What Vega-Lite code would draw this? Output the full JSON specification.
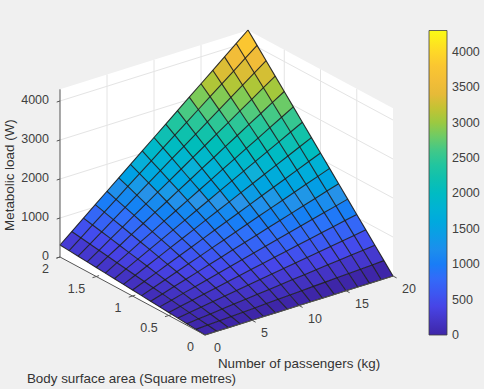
{"$schema":"https://vega.github.io/schema/vega-lite/v6.json","width":484,"height":389,"padding":0,"autosize":{"type":"none"},"background":"#f0f0f0","config":{"view":{"stroke":null},"text":{"font":"Liberation Sans","fontSize":12.5,"color":"#404040"}},
"datasets":{
"walls":[{"w":"floor","o":0,"p":0,"a":0,"z":0},{"w":"floor","o":1,"p":20,"a":0,"z":0},{"w":"floor","o":2,"p":20,"a":2,"z":0},{"w":"floor","o":3,"p":0,"a":2,"z":0},{"w":"back","o":0,"p":0,"a":2,"z":0},{"w":"back","o":1,"p":20,"a":2,"z":0},{"w":"back","o":2,"p":20,"a":2,"z":4300},{"w":"back","o":3,"p":0,"a":2,"z":4300},{"w":"side","o":0,"p":20,"a":2,"z":0},{"w":"side","o":1,"p":20,"a":0,"z":0},{"w":"side","o":2,"p":20,"a":0,"z":4300},{"w":"side","o":3,"p":20,"a":2,"z":4300}],
"wallgrid":[{"g":"z1","o":0,"p":0,"a":2,"z":1000},{"g":"z1","o":1,"p":20,"a":2,"z":1000},{"g":"z1","o":2,"p":20,"a":0,"z":1000},{"g":"z2","o":0,"p":0,"a":2,"z":2000},{"g":"z2","o":1,"p":20,"a":2,"z":2000},{"g":"z2","o":2,"p":20,"a":0,"z":2000},{"g":"z3","o":0,"p":0,"a":2,"z":3000},{"g":"z3","o":1,"p":20,"a":2,"z":3000},{"g":"z3","o":2,"p":20,"a":0,"z":3000},{"g":"z4","o":0,"p":0,"a":2,"z":4000},{"g":"z4","o":1,"p":20,"a":2,"z":4000},{"g":"z4","o":2,"p":20,"a":0,"z":4000},{"g":"p5","o":0,"p":5,"a":2,"z":0},{"g":"p5","o":1,"p":5,"a":2,"z":4300},{"g":"p10","o":0,"p":10,"a":2,"z":0},{"g":"p10","o":1,"p":10,"a":2,"z":4300},{"g":"p15","o":0,"p":15,"a":2,"z":0},{"g":"p15","o":1,"p":15,"a":2,"z":4300},{"g":"a15","o":0,"p":20,"a":1.5,"z":0},{"g":"a15","o":1,"p":20,"a":1.5,"z":4300},{"g":"a10","o":0,"p":20,"a":1,"z":0},{"g":"a10","o":1,"p":20,"a":1,"z":4300},{"g":"a05","o":0,"p":20,"a":0.5,"z":0},{"g":"a05","o":1,"p":20,"a":0.5,"z":4300}],
"axes":[{"g":"zaxis","o":0,"p":0,"a":2,"z":0},{"g":"zaxis","o":1,"p":0,"a":2,"z":4300},{"g":"aaxis","o":0,"p":0,"a":2,"z":0},{"g":"aaxis","o":1,"p":0,"a":0,"z":0},{"g":"paxis","o":0,"p":0,"a":0,"z":0},{"g":"paxis","o":1,"p":20,"a":0,"z":0},
{"g":"tz0","o":0,"p":-0.35,"a":2,"z":0},{"g":"tz0","o":1,"p":0,"a":2,"z":0},{"g":"tz1","o":0,"p":-0.35,"a":2,"z":1000},{"g":"tz1","o":1,"p":0,"a":2,"z":1000},{"g":"tz2","o":0,"p":-0.35,"a":2,"z":2000},{"g":"tz2","o":1,"p":0,"a":2,"z":2000},{"g":"tz3","o":0,"p":-0.35,"a":2,"z":3000},{"g":"tz3","o":1,"p":0,"a":2,"z":3000},{"g":"tz4","o":0,"p":-0.35,"a":2,"z":4000},{"g":"tz4","o":1,"p":0,"a":2,"z":4000},
{"g":"ta2","o":0,"p":0,"a":2,"z":0},{"g":"ta2","o":1,"p":-0.4,"a":2,"z":0},{"g":"ta15","o":0,"p":-0.4,"a":1.5,"z":0},{"g":"ta15","o":1,"p":0.3,"a":1.5,"z":0},{"g":"ta1","o":0,"p":-0.4,"a":1,"z":0},{"g":"ta1","o":1,"p":0.3,"a":1,"z":0},{"g":"ta05","o":0,"p":-0.4,"a":0.5,"z":0},{"g":"ta05","o":1,"p":0.3,"a":0.5,"z":0},
{"g":"tp5","o":0,"p":5,"a":0,"z":0},{"g":"tp5","o":1,"p":5,"a":-0.05,"z":0},{"g":"tp10","o":0,"p":10,"a":0,"z":0},{"g":"tp10","o":1,"p":10,"a":-0.05,"z":0},{"g":"tp15","o":0,"p":15,"a":0,"z":0},{"g":"tp15","o":1,"p":15,"a":-0.05,"z":0},{"g":"tp20","o":0,"p":20,"a":0,"z":0},{"g":"tp20","o":1,"p":20,"a":-0.05,"z":0}],
"labels":[{"axis":"z","label":"0","p":0,"a":2,"z":0},{"axis":"z","label":"1000","p":0,"a":2,"z":1000},{"axis":"z","label":"2000","p":0,"a":2,"z":2000},{"axis":"z","label":"3000","p":0,"a":2,"z":3000},{"axis":"z","label":"4000","p":0,"a":2,"z":4000},{"axis":"a","label":"2","p":0,"a":2,"z":0},{"axis":"a","label":"1.5","p":0,"a":1.5,"z":0},{"axis":"a","label":"1","p":0,"a":1,"z":0},{"axis":"a","label":"0.5","p":0,"a":0.5,"z":0},{"axis":"a","label":"0","p":0,"a":0,"z":0},{"axis":"p","label":"0","p":0,"a":0,"z":0},{"axis":"p","label":"5","p":5,"a":0,"z":0},{"axis":"p","label":"10","p":10,"a":0,"z":0},{"axis":"p","label":"15","p":15,"a":0,"z":0},{"axis":"p","label":"20","p":20,"a":0,"z":0},{"axis":"tz","label":"Metabolic load (W)","p":0,"a":2,"z":2100},{"axis":"ta","label":"Body surface area (Square metres)","p":0,"a":1,"z":0},{"axis":"tp","label":"Number of passengers (kg)","p":10,"a":0,"z":0}],
"cbticks":[{"v":0},{"v":500},{"v":1000},{"v":1500},{"v":2000},{"v":2500},{"v":3000},{"v":3500},{"v":4000}],
"grid":[
{"p":0,"a":0,"z":0},{"p":0,"a":0.125,"z":19},{"p":0,"a":0.25,"z":39},{"p":0,"a":0.375,"z":58},{"p":0,"a":0.5,"z":77},{"p":0,"a":0.625,"z":96},{"p":0,"a":0.75,"z":116},{"p":0,"a":0.875,"z":135},{"p":0,"a":1,"z":154},{"p":0,"a":1.125,"z":173},{"p":0,"a":1.25,"z":193},{"p":0,"a":1.375,"z":212},{"p":0,"a":1.5,"z":231},{"p":0,"a":1.625,"z":250},{"p":0,"a":1.75,"z":270},{"p":0,"a":1.875,"z":289},{"p":0,"a":2,"z":308},
{"p":1.25,"a":0,"z":0},{"p":1.25,"a":0.125,"z":35},{"p":1.25,"a":0.25,"z":70},{"p":1.25,"a":0.375,"z":105},{"p":1.25,"a":0.5,"z":140},{"p":1.25,"a":0.625,"z":174},{"p":1.25,"a":0.75,"z":209},{"p":1.25,"a":0.875,"z":244},{"p":1.25,"a":1,"z":279},{"p":1.25,"a":1.125,"z":314},{"p":1.25,"a":1.25,"z":349},{"p":1.25,"a":1.375,"z":384},{"p":1.25,"a":1.5,"z":419},{"p":1.25,"a":1.625,"z":453},{"p":1.25,"a":1.75,"z":488},{"p":1.25,"a":1.875,"z":523},{"p":1.25,"a":2,"z":558},
{"p":2.5,"a":0,"z":0},{"p":2.5,"a":0.125,"z":51},{"p":2.5,"a":0.25,"z":101},{"p":2.5,"a":0.375,"z":152},{"p":2.5,"a":0.5,"z":202},{"p":2.5,"a":0.625,"z":253},{"p":2.5,"a":0.75,"z":303},{"p":2.5,"a":0.875,"z":354},{"p":2.5,"a":1,"z":404},{"p":2.5,"a":1.125,"z":455},{"p":2.5,"a":1.25,"z":505},{"p":2.5,"a":1.375,"z":556},{"p":2.5,"a":1.5,"z":606},{"p":2.5,"a":1.625,"z":657},{"p":2.5,"a":1.75,"z":707},{"p":2.5,"a":1.875,"z":758},{"p":2.5,"a":2,"z":808},
{"p":3.75,"a":0,"z":0},{"p":3.75,"a":0.125,"z":66},{"p":3.75,"a":0.25,"z":132},{"p":3.75,"a":0.375,"z":198},{"p":3.75,"a":0.5,"z":265},{"p":3.75,"a":0.625,"z":331},{"p":3.75,"a":0.75,"z":397},{"p":3.75,"a":0.875,"z":463},{"p":3.75,"a":1,"z":529},{"p":3.75,"a":1.125,"z":595},{"p":3.75,"a":1.25,"z":661},{"p":3.75,"a":1.375,"z":727},{"p":3.75,"a":1.5,"z":794},{"p":3.75,"a":1.625,"z":860},{"p":3.75,"a":1.75,"z":926},{"p":3.75,"a":1.875,"z":992},{"p":3.75,"a":2,"z":1058},
{"p":5,"a":0,"z":0},{"p":5,"a":0.125,"z":82},{"p":5,"a":0.25,"z":164},{"p":5,"a":0.375,"z":245},{"p":5,"a":0.5,"z":327},{"p":5,"a":0.625,"z":409},{"p":5,"a":0.75,"z":491},{"p":5,"a":0.875,"z":572},{"p":5,"a":1,"z":654},{"p":5,"a":1.125,"z":736},{"p":5,"a":1.25,"z":818},{"p":5,"a":1.375,"z":899},{"p":5,"a":1.5,"z":981},{"p":5,"a":1.625,"z":1063},{"p":5,"a":1.75,"z":1145},{"p":5,"a":1.875,"z":1226},{"p":5,"a":2,"z":1308},
{"p":6.25,"a":0,"z":0},{"p":6.25,"a":0.125,"z":97},{"p":6.25,"a":0.25,"z":195},{"p":6.25,"a":0.375,"z":292},{"p":6.25,"a":0.5,"z":390},{"p":6.25,"a":0.625,"z":487},{"p":6.25,"a":0.75,"z":584},{"p":6.25,"a":0.875,"z":682},{"p":6.25,"a":1,"z":779},{"p":6.25,"a":1.125,"z":876},{"p":6.25,"a":1.25,"z":974},{"p":6.25,"a":1.375,"z":1071},{"p":6.25,"a":1.5,"z":1169},{"p":6.25,"a":1.625,"z":1266},{"p":6.25,"a":1.75,"z":1363},{"p":6.25,"a":1.875,"z":1461},{"p":6.25,"a":2,"z":1558},
{"p":7.5,"a":0,"z":0},{"p":7.5,"a":0.125,"z":113},{"p":7.5,"a":0.25,"z":226},{"p":7.5,"a":0.375,"z":339},{"p":7.5,"a":0.5,"z":452},{"p":7.5,"a":0.625,"z":565},{"p":7.5,"a":0.75,"z":678},{"p":7.5,"a":0.875,"z":791},{"p":7.5,"a":1,"z":904},{"p":7.5,"a":1.125,"z":1017},{"p":7.5,"a":1.25,"z":1130},{"p":7.5,"a":1.375,"z":1243},{"p":7.5,"a":1.5,"z":1356},{"p":7.5,"a":1.625,"z":1469},{"p":7.5,"a":1.75,"z":1582},{"p":7.5,"a":1.875,"z":1695},{"p":7.5,"a":2,"z":1808},
{"p":8.75,"a":0,"z":0},{"p":8.75,"a":0.125,"z":129},{"p":8.75,"a":0.25,"z":257},{"p":8.75,"a":0.375,"z":386},{"p":8.75,"a":0.5,"z":515},{"p":8.75,"a":0.625,"z":643},{"p":8.75,"a":0.75,"z":772},{"p":8.75,"a":0.875,"z":900},{"p":8.75,"a":1,"z":1029},{"p":8.75,"a":1.125,"z":1158},{"p":8.75,"a":1.25,"z":1286},{"p":8.75,"a":1.375,"z":1415},{"p":8.75,"a":1.5,"z":1544},{"p":8.75,"a":1.625,"z":1672},{"p":8.75,"a":1.75,"z":1801},{"p":8.75,"a":1.875,"z":1929},{"p":8.75,"a":2,"z":2058},
{"p":10,"a":0,"z":0},{"p":10,"a":0.125,"z":144},{"p":10,"a":0.25,"z":289},{"p":10,"a":0.375,"z":433},{"p":10,"a":0.5,"z":577},{"p":10,"a":0.625,"z":721},{"p":10,"a":0.75,"z":866},{"p":10,"a":0.875,"z":1010},{"p":10,"a":1,"z":1154},{"p":10,"a":1.125,"z":1298},{"p":10,"a":1.25,"z":1443},{"p":10,"a":1.375,"z":1587},{"p":10,"a":1.5,"z":1731},{"p":10,"a":1.625,"z":1875},{"p":10,"a":1.75,"z":2020},{"p":10,"a":1.875,"z":2164},{"p":10,"a":2,"z":2308},
{"p":11.25,"a":0,"z":0},{"p":11.25,"a":0.125,"z":160},{"p":11.25,"a":0.25,"z":320},{"p":11.25,"a":0.375,"z":480},{"p":11.25,"a":0.5,"z":640},{"p":11.25,"a":0.625,"z":799},{"p":11.25,"a":0.75,"z":959},{"p":11.25,"a":0.875,"z":1119},{"p":11.25,"a":1,"z":1279},{"p":11.25,"a":1.125,"z":1439},{"p":11.25,"a":1.25,"z":1599},{"p":11.25,"a":1.375,"z":1759},{"p":11.25,"a":1.5,"z":1919},{"p":11.25,"a":1.625,"z":2078},{"p":11.25,"a":1.75,"z":2238},{"p":11.25,"a":1.875,"z":2398},{"p":11.25,"a":2,"z":2558},
{"p":12.5,"a":0,"z":0},{"p":12.5,"a":0.125,"z":176},{"p":12.5,"a":0.25,"z":351},{"p":12.5,"a":0.375,"z":527},{"p":12.5,"a":0.5,"z":702},{"p":12.5,"a":0.625,"z":878},{"p":12.5,"a":0.75,"z":1053},{"p":12.5,"a":0.875,"z":1229},{"p":12.5,"a":1,"z":1404},{"p":12.5,"a":1.125,"z":1580},{"p":12.5,"a":1.25,"z":1755},{"p":12.5,"a":1.375,"z":1931},{"p":12.5,"a":1.5,"z":2106},{"p":12.5,"a":1.625,"z":2282},{"p":12.5,"a":1.75,"z":2457},{"p":12.5,"a":1.875,"z":2633},{"p":12.5,"a":2,"z":2808},
{"p":13.75,"a":0,"z":0},{"p":13.75,"a":0.125,"z":191},{"p":13.75,"a":0.25,"z":382},{"p":13.75,"a":0.375,"z":573},{"p":13.75,"a":0.5,"z":765},{"p":13.75,"a":0.625,"z":956},{"p":13.75,"a":0.75,"z":1147},{"p":13.75,"a":0.875,"z":1338},{"p":13.75,"a":1,"z":1529},{"p":13.75,"a":1.125,"z":1720},{"p":13.75,"a":1.25,"z":1911},{"p":13.75,"a":1.375,"z":2102},{"p":13.75,"a":1.5,"z":2294},{"p":13.75,"a":1.625,"z":2485},{"p":13.75,"a":1.75,"z":2676},{"p":13.75,"a":1.875,"z":2867},{"p":13.75,"a":2,"z":3058},
{"p":15,"a":0,"z":0},{"p":15,"a":0.125,"z":207},{"p":15,"a":0.25,"z":414},{"p":15,"a":0.375,"z":620},{"p":15,"a":0.5,"z":827},{"p":15,"a":0.625,"z":1034},{"p":15,"a":0.75,"z":1241},{"p":15,"a":0.875,"z":1447},{"p":15,"a":1,"z":1654},{"p":15,"a":1.125,"z":1861},{"p":15,"a":1.25,"z":2068},{"p":15,"a":1.375,"z":2274},{"p":15,"a":1.5,"z":2481},{"p":15,"a":1.625,"z":2688},{"p":15,"a":1.75,"z":2895},{"p":15,"a":1.875,"z":3101},{"p":15,"a":2,"z":3308},
{"p":16.25,"a":0,"z":0},{"p":16.25,"a":0.125,"z":222},{"p":16.25,"a":0.25,"z":445},{"p":16.25,"a":0.375,"z":667},{"p":16.25,"a":0.5,"z":890},{"p":16.25,"a":0.625,"z":1112},{"p":16.25,"a":0.75,"z":1334},{"p":16.25,"a":0.875,"z":1557},{"p":16.25,"a":1,"z":1779},{"p":16.25,"a":1.125,"z":2001},{"p":16.25,"a":1.25,"z":2224},{"p":16.25,"a":1.375,"z":2446},{"p":16.25,"a":1.5,"z":2669},{"p":16.25,"a":1.625,"z":2891},{"p":16.25,"a":1.75,"z":3113},{"p":16.25,"a":1.875,"z":3336},{"p":16.25,"a":2,"z":3558},
{"p":17.5,"a":0,"z":0},{"p":17.5,"a":0.125,"z":238},{"p":17.5,"a":0.25,"z":476},{"p":17.5,"a":0.375,"z":714},{"p":17.5,"a":0.5,"z":952},{"p":17.5,"a":0.625,"z":1190},{"p":17.5,"a":0.75,"z":1428},{"p":17.5,"a":0.875,"z":1666},{"p":17.5,"a":1,"z":1904},{"p":17.5,"a":1.125,"z":2142},{"p":17.5,"a":1.25,"z":2380},{"p":17.5,"a":1.375,"z":2618},{"p":17.5,"a":1.5,"z":2856},{"p":17.5,"a":1.625,"z":3094},{"p":17.5,"a":1.75,"z":3332},{"p":17.5,"a":1.875,"z":3570},{"p":17.5,"a":2,"z":3808},
{"p":18.75,"a":0,"z":0},{"p":18.75,"a":0.125,"z":254},{"p":18.75,"a":0.25,"z":507},{"p":18.75,"a":0.375,"z":761},{"p":18.75,"a":0.5,"z":1015},{"p":18.75,"a":0.625,"z":1268},{"p":18.75,"a":0.75,"z":1522},{"p":18.75,"a":0.875,"z":1775},{"p":18.75,"a":1,"z":2029},{"p":18.75,"a":1.125,"z":2283},{"p":18.75,"a":1.25,"z":2536},{"p":18.75,"a":1.375,"z":2790},{"p":18.75,"a":1.5,"z":3044},{"p":18.75,"a":1.625,"z":3297},{"p":18.75,"a":1.75,"z":3551},{"p":18.75,"a":1.875,"z":3804},{"p":18.75,"a":2,"z":4058},
{"p":20,"a":0,"z":0},{"p":20,"a":0.125,"z":269},{"p":20,"a":0.25,"z":539},{"p":20,"a":0.375,"z":808},{"p":20,"a":0.5,"z":1077},{"p":20,"a":0.625,"z":1346},{"p":20,"a":0.75,"z":1616},{"p":20,"a":0.875,"z":1885},{"p":20,"a":1,"z":2154},{"p":20,"a":1.125,"z":2423},{"p":20,"a":1.25,"z":2693},{"p":20,"a":1.375,"z":2962},{"p":20,"a":1.5,"z":3231},{"p":20,"a":1.625,"z":3500},{"p":20,"a":1.75,"z":3770},{"p":20,"a":1.875,"z":4039},{"p":20,"a":2,"z":4308}
]},
"encoding":{"x":{"field":"X","type":"quantitative","axis":null,"scale":{"domain":[0,484],"nice":false,"zero":false}},"y":{"field":"Y","type":"quantitative","axis":null,"scale":{"domain":[389,0],"nice":false,"zero":false}}},
"layer":[
{"data":{"name":"walls"},"transform":[{"calculate":"205+9.4*datum.p-72.5*datum.a","as":"X"},{"calculate":"335-2.95*datum.p-39*datum.a-0.039*datum.z","as":"Y"}],"mark":{"type":"line","fill":"#ffffff","stroke":null},"encoding":{"detail":{"field":"w"},"order":{"field":"o"}}},
{"data":{"name":"wallgrid"},"transform":[{"calculate":"205+9.4*datum.p-72.5*datum.a","as":"X"},{"calculate":"335-2.95*datum.p-39*datum.a-0.039*datum.z","as":"Y"}],"mark":{"type":"line","stroke":"#e4e4e4","strokeWidth":1},"encoding":{"detail":{"field":"g"},"order":{"field":"o"}}},
{"data":{"name":"grid"},"transform":[{"calculate":"[{ci:round(datum.p/1.25),cj:round(datum.a*8),o:0},{ci:round(datum.p/1.25)-1,cj:round(datum.a*8),o:1},{ci:round(datum.p/1.25)-1,cj:round(datum.a*8)-1,o:2},{ci:round(datum.p/1.25),cj:round(datum.a*8)-1,o:3}]","as":"corners"},{"flatten":["corners"]},{"calculate":"datum.corners.ci*100+datum.corners.cj","as":"cell"},{"calculate":"datum.corners.o","as":"o"},{"filter":"datum.corners.ci>=0&&datum.corners.ci<16&&datum.corners.cj>=0&&datum.corners.cj<16"},{"joinaggregate":[{"op":"min","field":"z","as":"zc"}],"groupby":["cell"]},{"calculate":"205+9.4*datum.p-72.5*datum.a","as":"X"},{"calculate":"335-2.95*datum.p-39*datum.a-0.039*datum.z","as":"Y"}],"mark":{"type":"line","stroke":null},"encoding":{"detail":{"field":"cell"},"order":{"field":"o"},"fill":{"field":"zc","type":"quantitative","scale":{"domain":[0,430,860,1290,1720,2150,2580,3010,3440,3870,4300],"range":["#3e26a8","#4746eb","#3070fa","#2a94e8","#0fb0d8","#10bfb4","#3cc88c","#9dc93f","#edb83b","#fdc92f","#f9fb15"]},"legend":{"orient":"none","legendX":429,"legendY":30.5,"title":null,"format":"d","gradientLength":304.5,"gradientThickness":18,"gradientStrokeColor":"#404040","gradientStrokeWidth":0.8,"values":[0,500,1000,1500,2000,2500,3000,3500,4000],"labelFont":"Liberation Sans","labelFontSize":12.5,"labelColor":"#404040","labelOffset":5,"labelOverlap":false,"zindex":-1,"encode":{"labels":{"update":{"baseline":{"value":"middle"}}}}}}}},
{"data":{"name":"grid"},"transform":[{"calculate":"205+9.4*datum.p-72.5*datum.a","as":"X"},{"calculate":"335-2.95*datum.p-39*datum.a-0.039*datum.z","as":"Y"}],"mark":{"type":"line","stroke":"#1c1c1c","strokeWidth":1.1,"opacity":0.9},"encoding":{"detail":{"field":"p"},"order":{"field":"a"}}},
{"data":{"name":"grid"},"transform":[{"calculate":"205+9.4*datum.p-72.5*datum.a","as":"X"},{"calculate":"335-2.95*datum.p-39*datum.a-0.039*datum.z","as":"Y"}],"mark":{"type":"line","stroke":"#1c1c1c","strokeWidth":1.1,"opacity":0.9},"encoding":{"detail":{"field":"a"},"order":{"field":"p"}}},
{"data":{"name":"axes"},"transform":[{"calculate":"205+9.4*datum.p-72.5*datum.a","as":"X"},{"calculate":"335-2.95*datum.p-39*datum.a-0.039*datum.z","as":"Y"}],"mark":{"type":"line","stroke":"#555555","strokeWidth":1},"encoding":{"detail":{"field":"g"},"order":{"field":"o"}}},
{"data":{"name":"labels"},"transform":[{"filter":"datum.axis=='z'"},{"calculate":"205+9.4*datum.p-72.5*datum.a","as":"X"},{"calculate":"335-2.95*datum.p-39*datum.a-0.039*datum.z","as":"Y"}],"mark":{"type":"text","align":"right","baseline":"middle","dx":-11,"dy":-1},"encoding":{"text":{"field":"label"}}},
{"data":{"name":"labels"},"transform":[{"filter":"datum.axis=='a'"},{"calculate":"205+9.4*datum.p-72.5*datum.a","as":"X"},{"calculate":"335-2.95*datum.p-39*datum.a-0.039*datum.z","as":"Y"}],"mark":{"type":"text","align":"right","baseline":"middle","dx":-11,"dy":12},"encoding":{"text":{"field":"label"}}},
{"data":{"name":"labels"},"transform":[{"filter":"datum.axis=='p'"},{"calculate":"205+9.4*datum.p-72.5*datum.a","as":"X"},{"calculate":"335-2.95*datum.p-39*datum.a-0.039*datum.z","as":"Y"}],"mark":{"type":"text","align":"left","baseline":"middle","dx":9,"dy":13},"encoding":{"text":{"field":"label"}}},
{"data":{"name":"labels"},"transform":[{"filter":"datum.axis=='tz'"},{"calculate":"205+9.4*datum.p-72.5*datum.a","as":"X"},{"calculate":"335-2.95*datum.p-39*datum.a-0.039*datum.z","as":"Y"}],"mark":{"type":"text","align":"center","baseline":"middle","angle":270,"dx":0,"dy":-50,"fontSize":13.4,"color":"#333333"},"encoding":{"text":{"field":"label"}}},
{"data":{"name":"labels"},"transform":[{"filter":"datum.axis=='ta'"},{"calculate":"205+9.4*datum.p-72.5*datum.a","as":"X"},{"calculate":"335-2.95*datum.p-39*datum.a-0.039*datum.z","as":"Y"}],"mark":{"type":"text","align":"center","baseline":"middle","dx":-1,"dy":83,"fontSize":13.4,"color":"#333333"},"encoding":{"text":{"field":"label"}}},
{"data":{"name":"labels"},"transform":[{"filter":"datum.axis=='tp'"},{"calculate":"205+9.4*datum.p-72.5*datum.a","as":"X"},{"calculate":"335-2.95*datum.p-39*datum.a-0.039*datum.z","as":"Y"}],"mark":{"type":"text","align":"center","baseline":"middle","dx":0,"dy":58,"fontSize":13.4,"color":"#333333"},"encoding":{"text":{"field":"label"}}},
{"data":{"name":"cbticks"},"transform":[{"calculate":"335-datum.v*304.5/4300","as":"Y"}],"mark":{"type":"rule","stroke":"#404040","strokeWidth":1},"encoding":{"x":{"datum":444.5},"x2":{"datum":447}}}
]}
